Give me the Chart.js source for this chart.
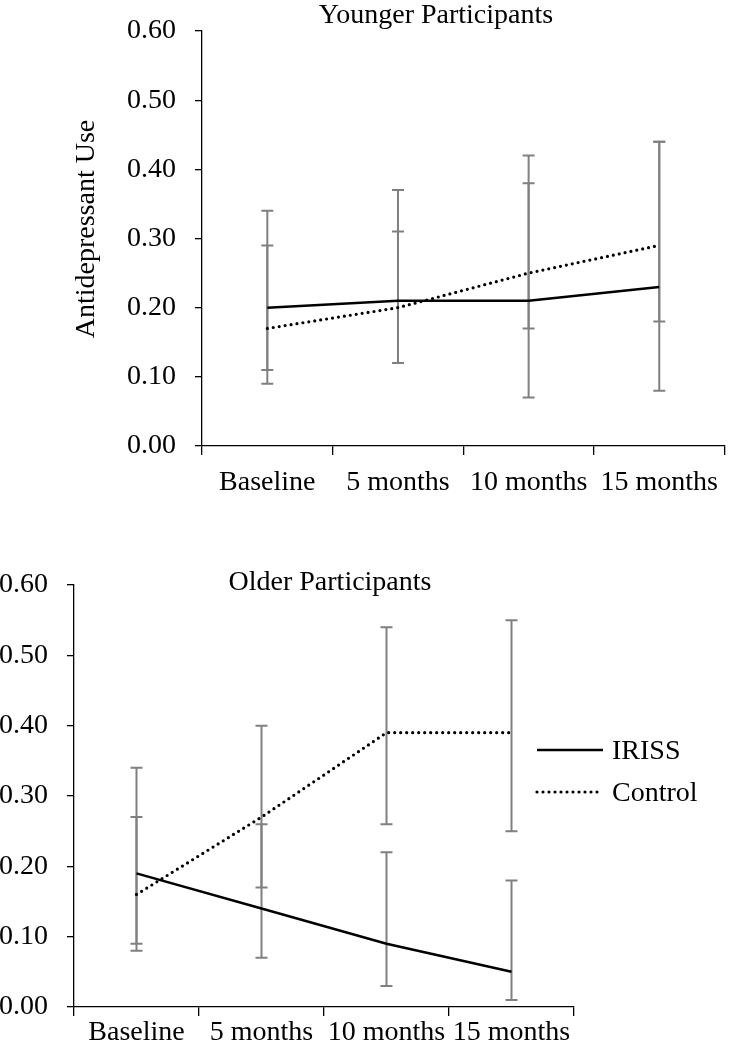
<!DOCTYPE html>
<html>
<head>
<meta charset="utf-8">
<script src="https://cdn.jsdelivr.net/npm/chart.js@4.4.1/dist/chart.umd.min.js"></script>
<style>
  body { margin: 0; background: #fff; }
  .wrap { position: relative; width: 729px; height: 1050px; }
  canvas { position: absolute; left: 0; }
</style>
</head>
<body>
<div class="wrap">
  <canvas id="younger" width="729" height="530" style="top:0"></canvas>
  <canvas id="older" width="729" height="520" style="top:530px"></canvas>
</div>
<script>
const timepoints = ['Baseline', '5 months', '10 months', '15 months'];
const seriesNames = ['IRISS', 'Control'];
const yMin = 0;
const yMax = 0.6;
const yStep = 0.1;

// younger participants
const youngIriss = [0.20, 0.21, 0.21, 0.23];
const youngControl = [0.17, 0.20, 0.25, 0.29];
const youngIrissLow = [0.11, 0.12, 0.07, 0.08];
const youngIrissHigh = [0.29, 0.31, 0.38, 0.44];
const youngControlLow = [0.09, 0.12, 0.17, 0.18];
const youngControlHigh = [0.34, 0.37, 0.42, 0.44];

// older participants
const oldIriss = [0.19, 0.14, 0.09, 0.05];
const oldControl = [0.16, 0.27, 0.39, 0.39];
const oldIrissLow = [0.09, 0.07, 0.03, 0.01];
const oldIrissHigh = [0.27, 0.26, 0.22, 0.18];
const oldControlLow = [0.08, 0.17, 0.26, 0.25];
const oldControlHigh = [0.34, 0.40, 0.54, 0.55];

const FONT = "'Liberation Serif', 'Times New Roman', serif";
Chart.defaults.font.family = FONT;
Chart.defaults.font.size = 28;
Chart.defaults.color = '#000';

// gray whiskers with caps, drawn under the lines
const errorBars = {
  id: 'errorBars',
  beforeDatasetsDraw(chart, args, opts) {
    const { ctx, scales: { x, y } } = chart;
    ctx.save();
    ctx.strokeStyle = '#808080';
    ctx.lineWidth = 2;
    opts.ranges.forEach(r => {
      r.low.forEach((lo, i) => {
        const px = x.getPixelForValue(i);
        const top = y.getPixelForValue(r.high[i]);
        const bot = y.getPixelForValue(lo);
        ctx.beginPath();
        ctx.moveTo(px, top); ctx.lineTo(px, bot);
        ctx.moveTo(px - 6, top); ctx.lineTo(px + 6, top);
        ctx.moveTo(px - 6, bot); ctx.lineTo(px + 6, bot);
        ctx.stroke();
      });
    });
    ctx.restore();
  }
};

// panel title + rotated y label
const panelText = {
  id: 'panelText',
  afterDraw(chart, args, opts) {
    const ctx = chart.ctx;
    ctx.save();
    ctx.fillStyle = '#000';
    ctx.font = '28px ' + FONT;
    ctx.textAlign = 'center';
    ctx.textBaseline = 'alphabetic';
    ctx.fillText(opts.title, opts.titleX, opts.titleY);
    if (opts.yLabel) {
      ctx.textBaseline = 'middle';
      ctx.translate(opts.yLabelX, opts.yLabelY);
      ctx.rotate(-Math.PI / 2);
      ctx.fillText(opts.yLabel, 0, 0);
    }
    ctx.restore();
  }
};

// legend sitting to the right, overlapping the axis end like the original
const sideLegend = {
  id: 'sideLegend',
  afterDraw(chart, args, opts) {
    if (!opts.show) return;
    const ctx = chart.ctx;
    chart.data.datasets.forEach((ds, i) => {
      const y = opts.top + i * opts.rowGap;
      ctx.save();
      ctx.strokeStyle = ds.borderColor;
      ctx.lineWidth = ds.borderWidth;
      ctx.lineCap = ds.borderCapStyle || 'butt';
      ctx.setLineDash(ds.borderDash || []);
      ctx.beginPath();
      ctx.moveTo(opts.x, y);
      ctx.lineTo(opts.x + opts.lineLength, y);
      ctx.stroke();
      ctx.setLineDash([]);
      ctx.fillStyle = '#000';
      ctx.font = '28px ' + FONT;
      ctx.textAlign = 'left';
      ctx.textBaseline = 'middle';
      ctx.fillText(ds.label, opts.x + opts.lineLength + opts.gap, y + 2);
      ctx.restore();
    });
  }
};

const makeDatasets = (iriss, control) => [
  {
    label: seriesNames[0],
    data: iriss,
    borderColor: '#000',
    borderWidth: 2.5,
    pointRadius: 0,
    tension: 0,
    fill: false,
  },
  {
    label: seriesNames[1],
    data: control,
    borderColor: '#000',
    borderWidth: 3.2,
    borderDash: [0, 6],
    borderCapStyle: 'round',
    pointRadius: 0,
    tension: 0,
    fill: false,
  },
];

const makeOptions = (o) => ({
  responsive: false,
  animation: false,
  layout: { padding: o.padding },
  plugins: {
    legend: { display: false },
    tooltip: { enabled: false },
    errorBars: { ranges: o.ranges },
    panelText: o.text,
    sideLegend: o.legend,
  },
  scales: {
    x: {
      offset: true,
      afterFit: (scale) => { scale.height = o.xHeight; },
      grid: { offset: true, drawOnChartArea: false, drawTicks: true, tickLength: 9, color: '#000', lineWidth: 1.3 },
      border: { display: true, color: '#000', width: 1.3 },
      ticks: { padding: o.xPad, maxRotation: 0, autoSkip: false, color: '#000' },
    },
    y: {
      min: yMin,
      max: yMax,
      afterFit: (scale) => {
        scale.width = o.yWidth;
        // keep the plot edges where layout padding puts them
        scale.paddingTop = 0;
        scale.paddingBottom = 0;
      },
      grid: { drawOnChartArea: false, drawTicks: true, tickLength: 7, color: '#000', lineWidth: 1.3 },
      border: { display: true, color: '#000', width: 1.3 },
      ticks: { stepSize: yStep, padding: 19, color: '#000', callback: (v) => Number(v).toFixed(2) },
    },
  },
});

new Chart(document.getElementById('younger'), {
  type: 'line',
  data: { labels: timepoints, datasets: makeDatasets(youngIriss, youngControl) },
  options: makeOptions({
    padding: { left: 0, right: 0, top: 31, bottom: 0 },
    yWidth: 202,
    xHeight: 84,
    xPad: 11,
    ranges: [
      { low: youngIrissLow, high: youngIrissHigh },
      { low: youngControlLow, high: youngControlHigh },
    ],
    text: { title: 'Younger Participants', titleX: 436, titleY: 23, yLabel: 'Antidepressant Use', yLabelX: 87, yLabelY: 229 },
    legend: { show: false },
  }),
  plugins: [errorBars, panelText, sideLegend],
});

new Chart(document.getElementById('older'), {
  type: 'line',
  data: { labels: timepoints, datasets: makeDatasets(oldIriss, oldControl) },
  options: makeOptions({
    padding: { left: 0, right: 155, top: 55, bottom: 0 },
    yWidth: 74,
    xHeight: 43,
    xPad: 0,
    ranges: [
      { low: oldIrissLow, high: oldIrissHigh },
      { low: oldControlLow, high: oldControlHigh },
    ],
    text: { title: 'Older Participants', titleX: 330, titleY: 60 },
    legend: { show: true, x: 537, top: 220, rowGap: 42, lineLength: 66, gap: 9 },
  }),
  plugins: [errorBars, panelText, sideLegend],
});
</script>
</body>
</html>
